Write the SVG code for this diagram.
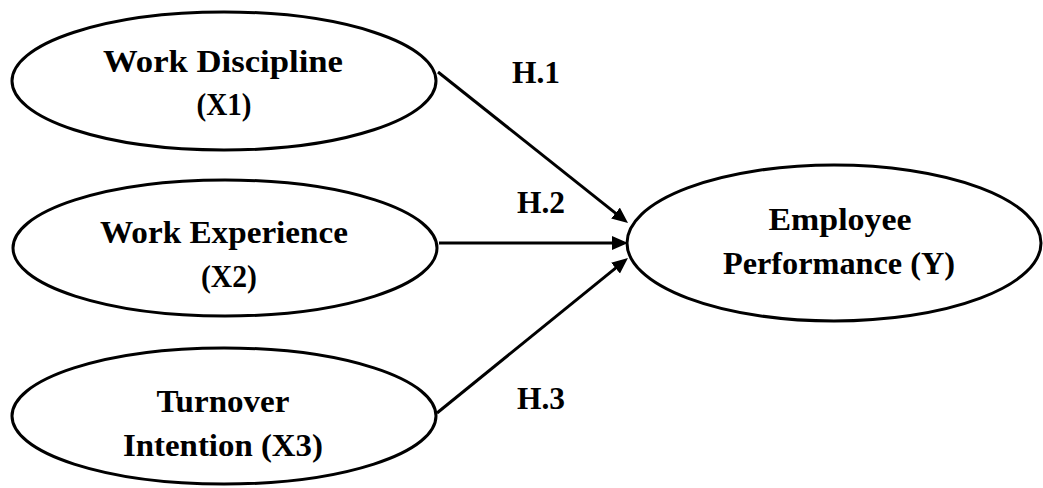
<svg xmlns="http://www.w3.org/2000/svg" width="1043" height="488" viewBox="0 0 1043 488">
  <style>
    .node ellipse { fill: #ffffff; stroke: #000000; stroke-width: 3; }
    .label { font-family: "Liberation Serif", "Times New Roman", serif; font-weight: bold; font-size: 31px; fill: #000000; text-anchor: middle; }
    .edge { stroke: #000000; stroke-width: 3; fill: none; marker-end: url(#arrow); }
  </style>
  <defs>
    <marker id="arrow" markerUnits="userSpaceOnUse" markerWidth="17" markerHeight="15" refX="6" refY="7" orient="auto">
      <path d="M0,0 L16,7 L0,14 z" fill="#000000"/>
    </marker>
  </defs>

  <rect width="1043" height="488" fill="#ffffff"/>

  <!-- connectors -->
  <g id="edges">
    <line class="edge" x1="438" y1="72" x2="620.2" y2="216.8"/>
    <line class="edge" x1="439" y1="243" x2="618" y2="243"/>
    <line class="edge" x1="437" y1="413" x2="620.2" y2="264.3"/>
    <text class="label" x="536" y="83" textLength="48" lengthAdjust="spacingAndGlyphs">H.1</text>
    <text class="label" x="541" y="213" textLength="48" lengthAdjust="spacingAndGlyphs">H.2</text>
    <text class="label" x="541" y="409" textLength="48" lengthAdjust="spacingAndGlyphs">H.3</text>
  </g>

  <g id="x1" class="node">
    <ellipse cx="224" cy="81" rx="212" ry="69"/>
    <text class="label" x="223" y="72" textLength="240" lengthAdjust="spacingAndGlyphs">Work Discipline</text>
    <text class="label" x="224" y="115" textLength="55" lengthAdjust="spacingAndGlyphs">(X1)</text>
  </g>

  <g id="x2" class="node">
    <ellipse cx="225" cy="248" rx="212" ry="68"/>
    <text class="label" x="224" y="243" textLength="248" lengthAdjust="spacingAndGlyphs">Work Experience</text>
    <text class="label" x="229" y="287" textLength="56" lengthAdjust="spacingAndGlyphs">(X2)</text>
  </g>

  <g id="x3" class="node">
    <ellipse cx="224" cy="416" rx="212" ry="68"/>
    <text class="label" x="223" y="412" textLength="133" lengthAdjust="spacingAndGlyphs">Turnover</text>
    <text class="label" x="223" y="456" textLength="200" lengthAdjust="spacingAndGlyphs">Intention (X3)</text>
  </g>

  <g id="y" class="node">
    <ellipse cx="834" cy="243" rx="207" ry="78"/>
    <text class="label" x="840" y="230" textLength="143" lengthAdjust="spacingAndGlyphs">Employee</text>
    <text class="label" x="839" y="274" textLength="232" lengthAdjust="spacingAndGlyphs">Performance (Y)</text>
  </g>
</svg>
